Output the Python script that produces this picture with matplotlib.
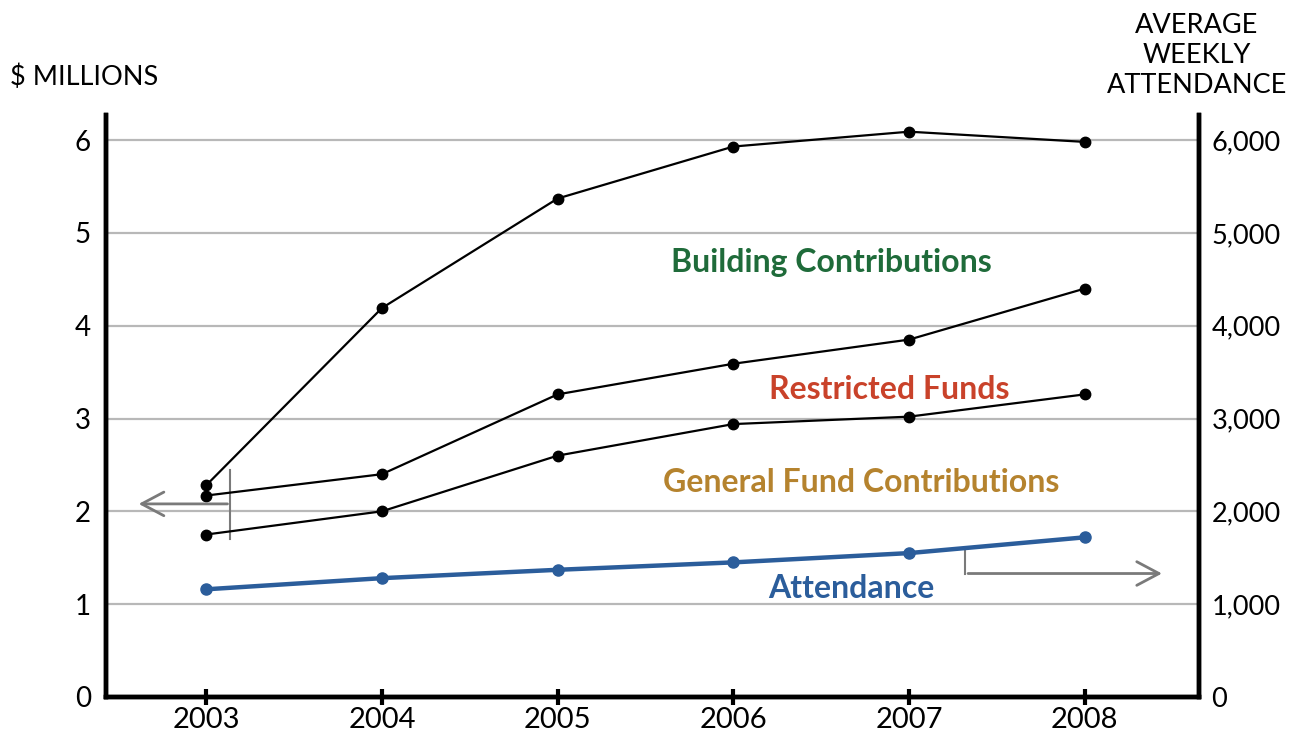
import matplotlib
matplotlib.use("Agg")
import matplotlib.pyplot as plt
from matplotlib.ticker import FuncFormatter

plt.rcParams['font.family'] = ['Lato', 'DejaVu Sans']

years = [2003, 2004, 2005, 2006, 2007, 2008]
building = [2.28, 4.19, 5.37, 5.93, 6.09, 5.98]
restricted = [2.17, 2.40, 3.26, 3.59, 3.85, 4.40]
general = [1.75, 2.00, 2.60, 2.94, 3.02, 3.26]
attendance = [1160, 1280, 1370, 1450, 1550, 1720]

ytop = 6.27

fig = plt.figure(figsize=(13.01, 7.38), dpi=100)
ax = fig.add_axes([0.0815, 0.0556, 0.8401, 0.7886])
ax.set_xlim(2002.43, 2008.65)
ax.set_ylim(0, ytop)

for v in range(1, 7):
    ax.axhline(v, color='#b8b8b8', lw=1.6, zorder=1)

for series in [building, restricted, general]:
    ax.plot(years, series, color='black', lw=1.6, marker='o', ms=7.5, zorder=3)

ax2 = ax.twinx()
ax2.set_ylim(0, ytop * 1000)
ax2.plot(years, attendance, color='#2b5d9b', lw=3.2, marker='o', ms=8, zorder=3)

for s in ['top']:
    ax.spines[s].set_visible(False)
    ax2.spines[s].set_visible(False)
for s in ['left', 'bottom', 'right']:
    ax.spines[s].set_linewidth(3.2)
    ax2.spines[s].set_linewidth(3.2)

ax.set_xticks(years)
ax.set_xticklabels([str(y) for y in years], fontsize=21)
ax.tick_params(axis='x', direction='inout', length=12, width=3, pad=1)
ax.set_yticks(range(0, 7))
ax.set_yticklabels([str(v) for v in range(0, 7)], fontsize=20)
ax.tick_params(axis='y', length=0, pad=11)
ax2.set_yticks(range(0, 7000, 1000))
ax2.yaxis.set_major_formatter(FuncFormatter(lambda v, p: f"{int(v):,}"))
ax2.tick_params(axis='y', length=0, pad=9, labelsize=19.5)

fig.text(0.008, 0.895, "$ MILLIONS", fontsize=19.5, ha='left', va='center')
fig.text(0.920, 0.925, "AVERAGE\nWEEKLY\nATTENDANCE", fontsize=19.5, ha='center',
         va='center', linespacing=1.25)

ax.text(2006.56, 4.68, "Building Contributions", color='#1f6b3a', fontsize=23,
        fontweight='bold', ha='center', va='center')
ax.text(2006.89, 3.31, "Restricted Funds", color='#c9422a', fontsize=23,
        fontweight='bold', ha='center', va='center')
ax.text(2006.73, 2.31, "General Fund Contributions", color='#b5832e', fontsize=23,
        fontweight='bold', ha='center', va='center')
ax.text(2006.67, 1.17, "Attendance", color='#2b5d9b', fontsize=23,
        fontweight='bold', ha='center', va='center')

arrow_col = '#7a7a7a'
ax.plot([2003.137, 2003.137], [1.70, 2.44], color=arrow_col, lw=1.5, zorder=2)
ax.annotate("", xy=(2002.60, 2.08), xytext=(2003.137, 2.08),
            arrowprops=dict(arrowstyle='->,head_length=1.6,head_width=0.85',
                            color=arrow_col, lw=2))
ax.plot([2007.32, 2007.32], [1.33, 1.57], color=arrow_col, lw=1.5, zorder=2)
ax.annotate("", xy=(2008.455, 1.33), xytext=(2007.32, 1.33),
            arrowprops=dict(arrowstyle='->,head_length=1.6,head_width=0.85',
                            color=arrow_col, lw=2))

fig.savefig("out.png", dpi=100)
